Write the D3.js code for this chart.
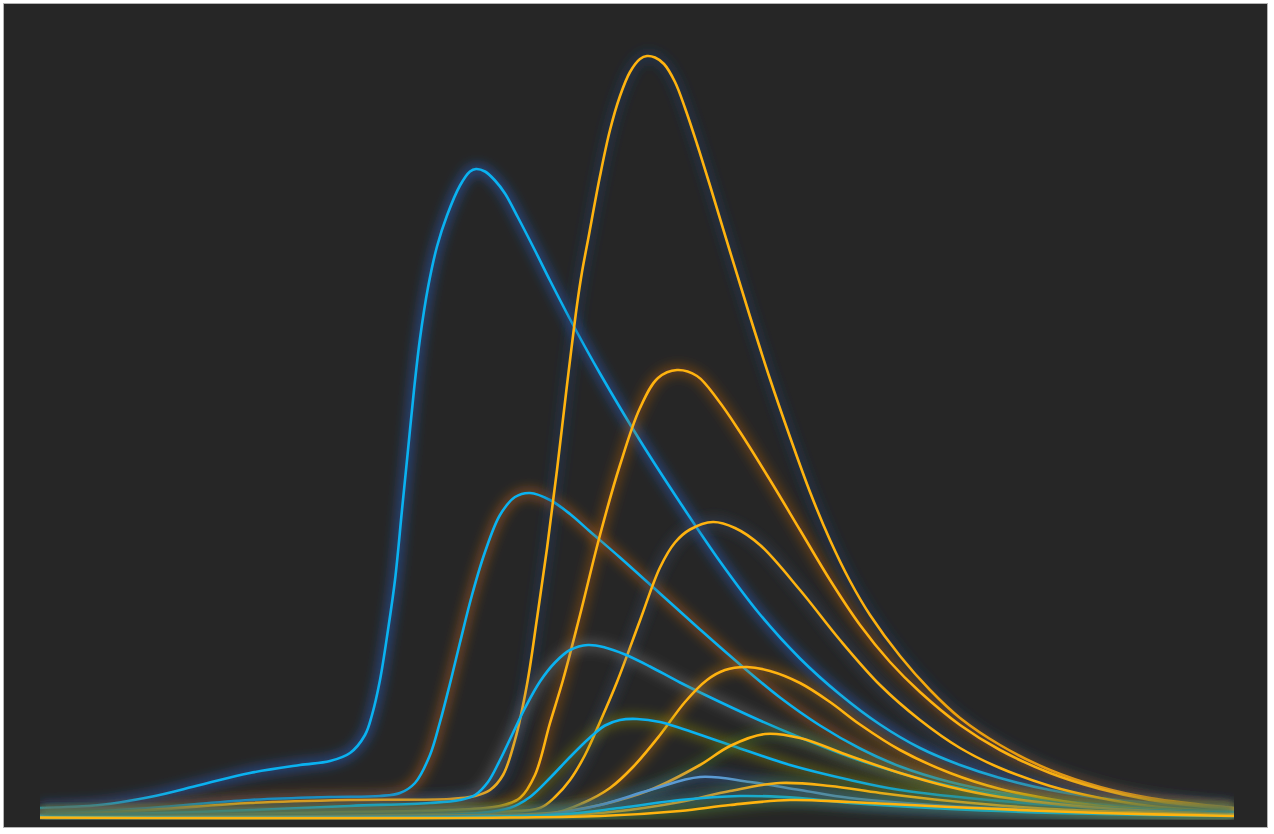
<!DOCTYPE html>
<html>
<head>
<meta charset="utf-8">
<script src="https://cdn.jsdelivr.net/npm/d3@7"></script>
<style>
html,body{margin:0;padding:0;background:#ffffff;}
svg{display:block;}
</style>
</head>
<body>
<svg id="chart" width="1274" height="834"></svg>
<script>
// x: time units, y: intensity units
const s1 = [[0,0.95],[6,1.25],[11,2.05],[16,3.25],[21,4.45],[26,5.25],[29,5.65],[31,6.45],[32.5,8.25],[33.2,10.25],[34,13.75],[34.8,18.75],[35.5,23.75],[36.2,30.75],[36.8,36.75],[37.4,42.75],[38,47.9],[38.8,53.0],[39.7,57.1],[40.7,60.2],[42,63.2],[43,64.6],[43.6,64.85],[44.5,64.6],[45.5,63.7],[46.5,62.4],[47.8,60.0],[49.5,56.7],[51,53.7],[53.5,48.9],[56,44.4],[60,37.7],[64,31.5],[68,25.6],[72,20.3],[76,15.9],[80,12.3],[84,9.3],[88,6.95],[92,5.25],[96,3.95],[101,2.75],[106,1.95],[111,1.45],[119.4,0.95]];
const s2 = [[0,0.25],[11,0.95],[21,1.75],[29,2.05],[34,2.15],[36,2.45],[37.5,3.45],[39,6.25],[40,9.55],[41,13.4],[42,17.5],[43.2,22.25],[44.5,26.55],[46,30.25],[47.5,32.05],[49,32.45],[51,31.75],[53,30.35],[55,28.6],[58,26.0],[62,22.4],[66,18.8],[70,15.3],[74,12.0],[78,9.2],[82,6.9],[86,5.1],[91,3.55],[96,2.5],[102,1.65],[108,1.15],[119.4,0.65]];
const s3 = [[0,0.15],[11,0.75],[21,1.45],[31,1.75],[41,1.85],[43.5,2.15],[45,2.75],[46.3,4.25],[47.5,7.75],[48.7,13.3],[49.7,19.9],[50.7,26.9],[51.7,34.75],[52.7,43.25],[53.7,51.25],[54.2,54.55],[54.8,57.75],[56,64.15],[57,68.75],[58,72.15],[59,74.55],[60,75.85],[60.7,76.15],[61.5,76.0],[62.4,75.35],[63.5,73.55],[64.5,70.95],[65.7,67.35],[67,63.2],[69,56.6],[71,50.1],[73,43.85],[75,38.05],[77,32.55],[79,27.75],[81,23.65],[83,20.25],[86,16.15],[89,12.75],[92,9.95],[96,7.25],[101,4.75],[106,3.05],[111,1.95],[119.4,0.95]];
const s4 = [[0,0.15],[16,0.55],[31,1.15],[39,1.45],[42,1.75],[43.5,2.25],[44.8,3.55],[46,5.75],[47.2,8.25],[48.5,10.95],[50,13.6],[51.5,15.5],[53,16.75],[54.8,17.25],[56.5,17.0],[58.5,16.3],[61,15.1],[64,13.5],[68,11.55],[72,9.7],[76,8.0],[81,6.05],[86,4.45],[91,3.15],[96,2.25],[106,1.15],[119.4,0.55]];
const s5 = [[0,0.05],[36,0.15],[44,0.45],[47,0.95],[49,2.05],[51,3.95],[53,6.05],[55,8.0],[56.5,9.2],[58,9.75],[59.7,9.85],[62,9.55],[64.3,8.85],[69.3,7.15],[75,5.25],[81,3.75],[86,2.75],[96,1.65],[106,0.95],[119.4,0.45]];
const s6 = [[0,0.05],[46,0.15],[51,0.35],[56,1.25],[61,2.75],[66,4.05],[71,3.55],[76,2.75],[81,1.95],[91,1.15],[106,0.55],[119.4,0.25]];
const s7 = [[0,0.05],[51,0.25],[58,0.95],[64,1.75],[70,2.15],[76,1.95],[81,1.45],[91,0.85],[106,0.35],[119.4,0.15]];
const s8 = [[0,0.05],[16,0.25],[31,0.55],[41,0.75],[46,1.15],[48,1.95],[49.5,4.25],[51,9.45],[52.3,13.75],[54,20.25],[56,28.25],[58,35.25],[60,40.95],[61.8,43.95],[63.7,44.75],[65.7,44.15],[67.8,41.75],[70,38.55],[73,33.75],[76,28.75],[79,23.75],[82,19.25],[85,15.55],[88,12.55],[92,9.25],[96,6.75],[101,4.45],[106,2.85],[111,1.75],[119.4,0.75]];
const s9 = [[0,0.05],[36,0.25],[46,0.55],[50,0.95],[51.5,2.05],[53,3.75],[54.5,6.25],[56,9.55],[57.7,13.55],[60,19.7],[62,25.0],[63.5,27.5],[65,28.8],[67.3,29.55],[69.5,28.95],[72,27.25],[76,22.75],[80,17.75],[84,13.25],[88,9.75],[92,6.95],[96,4.95],[101,3.15],[106,1.95],[111,1.15],[119.4,0.55]];
const s10 = [[0,0.05],[41,0.15],[51,0.35],[54.3,1.45],[57,2.95],[59.3,5.05],[62,8.25],[64.5,11.55],[66.7,13.75],[68.5,14.75],[70.7,15.05],[73,14.65],[76,13.45],[79,11.55],[82,9.3],[86,6.75],[91,4.45],[96,2.85],[101,1.85],[106,1.15],[119.4,0.45]];
const s11 = [[0,0.05],[46,0.25],[51,0.45],[56,1.25],[61,2.75],[66,5.25],[69,7.15],[72.5,8.35],[76,7.95],[81,6.15],[86,4.45],[91,3.05],[96,2.05],[106,0.95],[119.4,0.35]];
const s12 = [[0,0],[51,0.15],[58,0.65],[64,1.55],[69,2.65],[74,3.45],[79,3.15],[84,2.45],[91,1.65],[101,0.85],[119.4,0.25]];
const s13 = [[0,0],[56,0.15],[64,0.65],[69,1.25],[75,1.75],[81,1.55],[91,1.05],[106,0.45],[119.4,0.15]];

const seriesList = [s1, s2, s3, s8, s9, s4, s10, s5, s11, s6, s12, s7, s13];
const lineColors = ["#0ab2f0","#0ab2f0","#ffb30f","#ffb30f","#ffb30f","#0ab2f0","#ffb30f","#0ab2f0","#ffb30f","#5b9bd5","#ffb30f","#0ab2f0","#ffb30f"];
const glowColors = ["#2a68d8","#c4661c","#22406e","#a85a18","#3c4c66","#7a7a7a","#b4701a","#8a8a14","#4a7a24","#2e60b0","#4a7a34","#2e60b0","#5a8a30"];

const xDomain = [0, 119.4];
const yDomain = [0, 80];

const svg = d3.select("#chart");
const W = 1274, H = 834;
const plot = {left: 40, right: 1234, top: 17.5, bottom: 817.5};

svg.append("rect").attr("x",3.5).attr("y",3.5).attr("width",1264).attr("height",824)
  .attr("fill","#262626").attr("stroke","#b4b4b4").attr("stroke-width",1);

const defs = svg.append("defs");
defs.append("clipPath").attr("id","plotclip").append("rect")
  .attr("x",plot.left).attr("y",0).attr("width",plot.right-plot.left).attr("height",819.5);
const f = defs.append("filter").attr("id","glow").attr("filterUnits","userSpaceOnUse")
  .attr("x",0).attr("y",0).attr("width",W).attr("height",H);
f.append("feGaussianBlur").attr("stdDeviation",6);

const x = d3.scaleLinear().domain(xDomain).range([plot.left, plot.right]);
const y = d3.scaleLinear().domain(yDomain).range([plot.bottom, plot.top]);

const line = d3.line().x(d=>x(d[0])).y(d=>y(d[1])).curve(d3.curveCatmullRom.alpha(0.5));

const g = svg.append("g").attr("clip-path","url(#plotclip)");
seriesList.forEach((s,i)=>{
  const sg = g.append("g");
  sg.append("path").attr("d", line(s)).attr("fill","none")
    .attr("stroke", glowColors[i]).attr("stroke-width", 9).attr("stroke-opacity", 0.55)
    .attr("filter","url(#glow)");
  sg.append("path").attr("d", line(s)).attr("fill","none")
    .attr("stroke", lineColors[i]).attr("stroke-width", 2.6)
    .attr("stroke-linejoin","round");
});
</script>
</body>
</html>
